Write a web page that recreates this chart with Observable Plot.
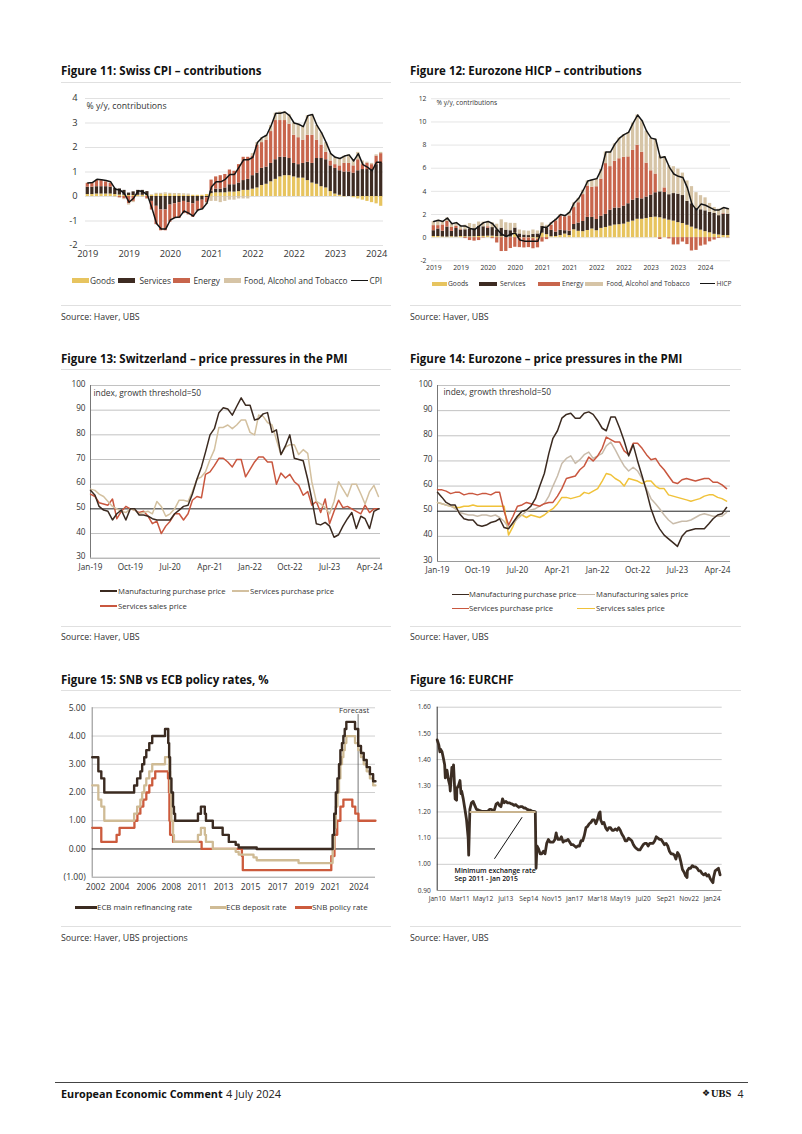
<!DOCTYPE html>
<html><head><meta charset="utf-8">
<script src="https://cdn.jsdelivr.net/npm/d3@7"></script>
<script src="https://cdn.jsdelivr.net/npm/@observablehq/plot@0.6"></script>
<style>
body{margin:0;background:#fff;}
#page{position:relative;width:802px;height:1134px;font-family:"Open Sans",sans-serif;color:#1a1a1a;overflow:hidden;background:#fff}
</style></head><body><div id="page"></div>
<script>
// ---------------- DATA ----------------
// Figure 11: Swiss CPI contributions (monthly, Jan 2019 - May 2024)
const series11 = ["Goods", "Services", "Energy", "Food, Alcohol and Tobacco"];
const chGoods = [.08,.08,.1,.1,.1,.1,.08,.06,.05,.04,.04,.05, .05,.05,.05,.08,.08,.1,.08,.07,.07,.06,.05,.05, .05,.05,.08,.12,.15,.15,.15,.18,.18,.2,.25,.25, .3,.35,.45,.5,.6,.7,.8,.85,.85,.8,.75,.75, .65,.55,.5,.4,.35,.2,.1,.05,-.02,0,-.05,-.1, -.15,-.2,-.25,-.3,-.4];
const chServices = [.3,.3,.3,.3,.3,.28,.25,.25,.2,.1,.15,.2, .2,.15,-.2,-.4,-.55,-.55,-.35,-.3,-.25,-.2,-.25,-.3, -.2,-.15,-.05,.1,.15,.15,.2,.3,.3,.35,.4,.45, .55,.6,.7,.7,.75,.8,.8,.75,.7,.55,.55,.6, .75,.8,1.05,1.15,1.15,1.05,1.05,1.0,1.0,1.0,.95,1.05, 1.1,1.1,1.1,1.3,1.35];
const chEnergy = [.15,.17,.25,.25,.2,.15,0,-.05,-.1,-.3,-.2,0, 0,-.1,-.35,-.75,-.85,-.85,-.7,-.6,-.65,-.5,-.5,-.55, -.4,-.35,-.2,.45,.5,.55,.55,.6,.55,.75,.95,.9, .8,1.15,1.05,1.1,1.3,1.6,1.5,1.5,1.4,1.15,1.1,.95, 1.1,1.15,.75,.55,.3,.2,.15,.2,.35,.35,.3,.45, .2,.25,.2,.35,.4];
const chFood = [.02,.02,.03,.03,.03,.03,-.02,-.03,-.03,-.05,-.05,-.02, -.03,-.02,.02,.05,.05,.05,.05,.05,.05,.05,.05,0, -.02,-.05,-.08,-.2,-.2,-.25,-.2,-.15,-.15,-.1,-.1,-.1, .1,.1,.2,.2,.25,.3,.35,.35,.4,.5,.55,.55, .8,.85,.6,.5,.4,.3,.3,.3,.3,.35,.25,.3, .15,.05,.05,.05,.05];
const chCPI = [0.55,0.57,0.7,0.68,0.65,0.6,0.3,0.27,0.12,-0.23,-0.07,0.23, 0.2,0.07,-0.48,-1.1,-1.33,-1.33,-0.96,-0.86,-0.84,-0.59,-0.68,-0.8, -0.55,-0.5,-0.27,0.4,0.6,0.6,0.7,0.9,0.9,1.2,1.5,1.5, 1.6,2.2,2.4,2.5,2.9,3.4,3.4,3.45,3.3,3.0,2.95,2.85, 3.3,3.35,2.9,2.6,2.2,1.75,1.6,1.55,1.65,1.7,1.45,1.75, 1.3,1.2,1.05,1.4,1.4];
const ticks11 = ["2019-01","2019-10","2020-07","2021-04","2022-01","2022-10","2023-07","2024-04"];
const tickLabels11 = ["2019","2019","2020","2021","2022","2022","2023","2024"];

// Figure 12: Eurozone HICP contributions (monthly, Jan 2019 - Jun 2024)
const ezGoods = [0.1,0.1,0.06,0.05,0.08,0.05,0.1,0.08,0.07,0.08,0.1,0.11, 0.13,0.13,0.08,0.08,0.05,0.05,0.42,-0.03,-0.03,-0.03,-0.08,-0.13, 0.39,0.26,0.08,0.1,0.18,0.31,0.18,0.68,0.55,0.52,0.62,0.75, 0.6,0.8,0.88,0.99,1.09,1.12,1.17,1.33,1.43,1.59,1.59,1.66, 1.74,1.77,1.72,1.61,1.51,1.43,1.3,1.22,1.07,0.91,0.75,0.65, 0.52,0.42,0.29,0.23,0.18,0.18];
const ezServices = [0.5,0.65,0.5,0.87,0.46,0.74,0.55,0.6,0.69,0.69,0.87,0.83, 0.69,0.74,0.6,0.74,0.6,0.55,0.41,0.32,0.23,0.18,0.28,0.32, 0.59,0.55,0.55,0.38,0.46,0.29,0.38,0.46,0.71,0.88,1.13,1.0, 0.97,1.05,1.13,1.39,1.47,1.43,1.55,1.6,1.81,1.81,1.76,1.85, 1.94,2.11,2.24,2.29,2.2,2.38,2.46,2.42,2.07,2.02,1.76,1.76, 1.8,1.76,1.8,1.67,1.85,1.85];
const ezEnergy = [0.44,0.29,0.54,0.48,0.34,0.19,0.05,-0.08,-0.25,-0.3,-0.25,-0.04, 0.12,-0.09,-0.46,-1.2,-1.19,-0.94,-0.83,-0.83,-0.86,-0.83,-0.88,-0.75, -0.38,-0.17,0.45,0.98,1.24,1.2,1.32,1.46,1.76,2.32,2.71,2.61, 2.83,3.21,4.39,3.76,4.04,4.27,4.22,4.05,4.3,4.58,4.03,2.93, 2.1,1.62,-0.16,0.4,-0.11,-0.63,-0.62,-0.38,-0.6,-1.15,-1.1,-0.73, -0.64,-0.36,-0.21,-0.06,0.05,-0.03];
const ezFood = [0.36,0.46,0.3,0.3,0.32,0.32,0.3,0.4,0.46,0.38,0.38,0.4, 0.46,0.42,0.48,0.72,0.64,0.64,0.4,0.34,0.36,0.38,0.38,0.26, 0.3,0.26,0.22,0.14,0.12,0.1,0.32,0.4,0.38,0.38,0.44,0.64, 0.7,0.84,1.0,1.26,1.5,1.78,1.96,2.12,2.36,2.62,2.72,2.76, 2.82,3.0,3.1,2.7,2.5,2.32,2.16,1.94,1.76,1.48,1.38,1.22, 1.12,0.78,0.52,0.56,0.52,0.5];
const ezHICP = [1.4,1.5,1.4,1.7,1.2,1.3,1.0,1.0,0.8,0.7,1.0,1.3, 1.4,1.2,0.7,0.3,0.1,0.3,0.4,-0.2,-0.3,-0.3,-0.3,-0.3, 0.9,0.9,1.3,1.6,2.0,1.9,2.2,3.0,3.4,4.1,4.9,5.0, 5.1,5.9,7.4,7.4,8.1,8.6,8.9,9.1,9.9,10.6,10.1,9.2, 8.6,8.5,6.9,7.0,6.1,5.5,5.3,5.2,4.3,2.9,2.4,2.9, 2.8,2.6,2.4,2.4,2.6,2.5];
const ticks12 = ["2019-01","2019-07","2020-01","2020-07","2021-01","2021-07","2022-01","2022-07","2023-01","2023-07","2024-01"];
const tickLabels12 = ["2019","2019","2020","2020","2021","2021","2022","2022","2023","2023","2024"];

// Figure 13: Switzerland PMI price components (monthly, Jan 2019 - Jun 2024)
const chManufPurch = [57.5,55.5,51,49.5,49,45.5,48,49.5,45.5,50,50,47.5,47.5,47,46,45.5,45.5,45.5,45.5,48,49.5,51,51.5,56,62,67,73,80,82.5,89,91,90.5,88,91.5,95,92,92,86,86.5,88.5,89,81,82,72,75.5,80,70.5,70,69.5,62,54,44,43.5,44.5,43,38.5,39.5,43,46,48.5,42,47,46,42,49,50];
const chServPurch = [58,57.5,56,55,53,51,50,49,48.5,50,49.5,48,48.5,49,48,53,51,47,48,50,53.5,53.5,53,57,62,63,65,70,74,83,83,84,82.5,84,86,86,81,80,88,87.5,85,84,78,72,75,76,76,72,74,72.5,61,53,52,50.5,48,53,61,58,55,60,60,56,52,57,59.5,55];
const chServSales = [56,55,52.5,52,51.5,54,46,49,51,50,49.5,48.5,49,47,44,45,40,43,45,48,48,45.5,48,53.5,55,54.5,64,65,67.5,70.5,70.5,69,67,70,70,63,66,69,71,71,69,69,60,64.5,62.5,64,61,59.5,55.5,57,51.5,53,48.5,54,44,49,53.5,50.5,51,50,49,48,51.5,48.5,50,50];
const pmiTicks = ["2019-01","2019-10","2020-07","2021-04","2022-01","2022-10","2023-07","2024-04"];

// Figure 14: Eurozone PMI price components (monthly, Jan 2019 - Jun 2024)
const ezManufPurch = [57.5,55.5,53.5,52.5,52.5,49,47,46.5,46.5,44.5,44,44.5,45.5,46,47,43.5,43,45.5,48,50,50.5,52,55,60,65,73,79,82,87,88.5,89,87,87,89,89.5,88.5,86,83,82,87.5,87.5,83,78,72,76.5,70,64,58,51,46,43,40.5,39,37.5,36,40,42,42.5,43,43,43,45,47,48.5,49,51.5];
const ezManufSales = [53.5,53,52.5,52,51,49.5,49,48.5,48.5,48,48.5,48.5,48,48.5,47.5,46,43.5,45,47,48.5,50,50.5,51,52,53,56,60,64,69,71,72,69,70.5,72.5,73.5,71,72,73,76,77.5,74.5,71,68,66,67.5,66,63,59,55,53,51,48.5,46.5,45,45.5,46,46,46.5,47.5,48.5,49,48.5,48,48,48,49.5];
const ezServPurch = [58.5,58.5,58,57,57.5,57.5,56.5,57,57,56.5,57,57,56.5,57.5,57.5,50,44.5,48,52,52.5,53.5,53,52.5,52,53,53.5,53.5,56,59,63,63.5,64,66.5,68,71.5,70,72,75,79.5,78.5,77.5,77.5,74,72.5,77,77,75,72.5,70.5,71,68.5,66.5,64,61.5,61,62.5,63,62.5,62,62.5,63,63,61.5,61.5,60.5,59];
const ezServSales = [53.5,53,52.5,52,51.5,51.5,52,52,52.5,52,52,52,52,52,52,52,40.5,44,48,48.5,47.5,48.5,48,47.5,48.5,50,51,53,55.5,55.5,55,55.5,56,57.5,57,58,59,62,65,64.5,63,62,60,63,62.5,62,61,62,62,60,59,59,56.5,56,55.5,55,54.5,54,54.5,55,56,56.5,56.5,55.5,55,54];

// Figure 15: policy rates (change dates and levels; 2024-09 onwards = UBS forecast)
const refiDates = ["2002-06-01","2002-12-06","2003-03-07","2003-06-06","2005-12-06","2006-03-08","2006-06-15","2006-08-09","2006-10-11","2006-12-13","2007-03-14","2007-06-13","2008-07-09","2008-10-15","2008-11-12","2008-12-10","2009-01-21","2009-03-11","2009-04-08","2009-05-13","2011-04-13","2011-07-13","2011-11-09","2011-12-14","2012-07-11","2013-05-08","2013-11-13","2014-06-11","2014-09-10","2016-03-16","2022-07-27","2022-09-14","2022-11-02","2022-12-21","2023-02-08","2023-03-22","2023-05-10","2023-06-21","2023-08-02","2023-09-20","2024-06-12","2024-09-18","2024-12-12","2025-03-06","2025-06-05","2025-09-11","2025-12-18","2026-03-01"];
const refiVals = [3.25,2.75,2.5,2.0,2.25,2.5,2.75,3.0,3.25,3.5,3.75,4.0,4.25,3.75,3.25,2.5,2.0,1.5,1.25,1.0,1.25,1.5,1.25,1.0,0.75,0.5,0.25,0.15,0.05,0.0,0.5,1.25,2.0,2.5,3.0,3.5,3.75,4.0,4.25,4.5,4.25,3.65,3.4,3.15,2.9,2.65,2.4,2.4];
const depDates = ["2002-06-01","2002-12-06","2003-03-07","2003-06-06","2005-12-06","2006-03-08","2006-06-15","2006-08-09","2006-10-11","2006-12-13","2007-03-14","2007-06-13","2008-07-09","2008-10-15","2008-11-12","2008-12-10","2009-01-21","2009-03-11","2009-04-08","2011-04-13","2011-07-13","2011-11-09","2011-12-14","2012-07-11","2014-06-11","2014-09-10","2015-12-09","2016-03-16","2019-09-18","2022-07-27","2022-09-14","2022-11-02","2022-12-21","2023-02-08","2023-03-22","2023-05-10","2023-06-21","2023-08-02","2023-09-20","2024-06-12","2024-09-18","2024-12-12","2025-03-06","2025-06-05","2025-09-11","2025-12-18","2026-03-01"];
const depVals = [2.25,1.75,1.5,1.0,1.25,1.5,1.75,2.0,2.25,2.5,2.75,3.0,3.25,3.25,2.75,2.0,1.0,0.5,0.25,0.5,0.75,0.5,0.25,0.0,-0.1,-0.2,-0.3,-0.4,-0.5,0.0,0.75,1.5,2.0,2.5,3.0,3.25,3.5,3.75,4.0,3.75,3.5,3.25,3.0,2.75,2.5,2.25,2.25];
const snbDates = ["2002-06-01","2003-03-06","2004-06-17","2004-09-16","2005-12-15","2006-03-16","2006-06-15","2006-09-14","2006-12-14","2007-03-15","2007-06-14","2007-09-13","2008-10-08","2008-11-06","2008-11-20","2008-12-11","2009-03-12","2011-08-03","2014-12-18","2015-01-15","2022-06-16","2022-09-22","2022-12-15","2023-03-23","2023-06-22","2024-03-21","2024-06-20","2024-09-26","2026-03-01"];
const snbVals = [0.75,0.25,0.5,0.75,1.0,1.25,1.5,1.75,2.0,2.25,2.5,2.75,2.5,2.0,1.0,0.5,0.25,0.0,-0.25,-0.75,-0.25,0.5,1.0,1.5,1.75,1.5,1.25,1.0,1.0];
const forecastStart = "2024-09-15";
const ticks15 = ["2002-09-12","2004-09-16","2006-12-12","2009-01-15","2011-03-20","2013-06-05","2015-09-10","2017-12-12","2020-03-10","2022-05-20","2024-10-08"];
const tickLabels15 = ["2002","2004","2006","2008","2011","2013","2015","2017","2019","2021","2024"];

// Figure 16: EURCHF (monthly readings Jan 2010 - Jun 2024, plus intramonth extremes)
const eurchf = [
 1.475,1.455,1.44,1.43,1.40,1.33,1.36,1.32,1.28,1.37,1.38,1.25,
 1.29,1.30,1.32,1.28,1.25,1.21,1.17,1.10,1.21,1.235,1.24,1.225,
 1.21,1.208,1.205,1.203,1.202,1.202,1.202,1.203,1.21,1.21,1.206,1.208,
 1.23,1.235,1.225,1.22,1.25,1.235,1.24,1.235,1.235,1.232,1.23,1.225,
 1.228,1.222,1.218,1.22,1.22,1.215,1.215,1.21,1.208,1.207,1.203,1.202,
 1.20,1.07,1.06,1.04,1.04,1.05,1.04,1.08,1.095,1.085,1.085,1.085,
 1.095,1.11,1.095,1.095,1.105,1.085,1.09,1.09,1.095,1.085,1.075,1.075,
 1.07,1.065,1.07,1.07,1.09,1.09,1.11,1.14,1.145,1.155,1.16,1.17,
 1.17,1.155,1.17,1.195,1.17,1.155,1.16,1.14,1.13,1.14,1.14,1.13,
 1.13,1.135,1.13,1.14,1.13,1.115,1.105,1.09,1.09,1.10,1.095,1.09,
 1.075,1.065,1.06,1.055,1.055,1.065,1.075,1.08,1.08,1.07,1.08,1.08,
 1.08,1.09,1.105,1.10,1.095,1.095,1.085,1.075,1.08,1.07,1.05,1.04,
 1.04,1.035,1.02,1.045,1.035,1.01,0.98,0.97,0.955,0.975,0.985,0.985,
 0.995,0.99,0.99,0.985,0.975,0.975,0.965,0.96,0.965,0.955,0.96,0.945,
 0.935,0.95,0.975,0.98,0.985,0.96];
const chfExtremeDates = ["2010-02-20","2010-05-20","2010-08-25","2010-10-15","2010-12-28","2011-03-20","2011-08-10","2015-01-15","2016-01-25","2018-04-20","2022-09-25","2024-01-20"];
const chfExtremeVals = [1.43, 1.38, 1.30, 1.34, 1.245, 1.27, 1.035, 0.985, 1.12, 1.20, 0.95, 0.93];
const floor16 = {start: "2011-09-06", end: "2015-01-15", level: 1.2};
const ticks16 = ["2010-01","2011-03","2012-05","2013-07","2014-09","2015-11","2017-01","2018-03","2019-05","2020-07","2021-09","2022-11","2024-01"];
const pointer16 = [{x1: "2012-12-01", y1: 1.021, x2: "2014-05-01", y2: 1.18}];
const note16 = {x: "2010-11-20", y: 0.961, text: "Minimum exchange rate\nSep 2011 - Jan 2015"};

// ---------------- HELPERS ----------------
const D = s => new Date((s.length === 7 ? s + "-01" : s) + "T00:00:00Z");
const page = document.getElementById("page");
const FONT = "'Open Sans', sans-serif";
function addText(text, x, yc, style) {
  const d = document.createElement("div");
  d.textContent = text;
  d.style.cssText = `position:absolute;left:${x}px;top:${yc - 8}px;line-height:16px;white-space:nowrap;` + (style || "");
  page.appendChild(d); return d;
}
function addRule(x1, x2, y, color, w) {
  const d = document.createElement("div");
  d.style.cssText = `position:absolute;left:${x1}px;top:${y}px;width:${x2 - x1}px;height:${w || 1}px;background:${color};`;
  page.appendChild(d);
}
function addSwatch(x, yc, w, h, color) {
  const d = document.createElement("div");
  d.style.cssText = `position:absolute;left:${x}px;top:${yc - h / 2}px;width:${w}px;height:${h}px;background:${color};`;
  page.appendChild(d);
}
function addChart(svg, left, top) {
  svg.style.position = "absolute"; svg.style.left = left + "px"; svg.style.top = top + "px";
  page.appendChild(svg);
}
const baseStyle = {fontFamily: FONT, color: "#333", background: "transparent", overflow: "visible"};
const plain = d => `${d}`;

// ---------------- TITLES, RULES, SOURCES ----------------
const titleStyle = "font-weight:700;font-size:11.5px;color:#111;";
const srcStyle = "font-size:8.8px;color:#333;";
addText("Figure 11: Swiss CPI \u2013 contributions", 61, 70.5, titleStyle);
addText("Figure 12: Eurozone HICP \u2013 contributions", 410, 70.5, titleStyle);
addText("Figure 13: Switzerland \u2013 price pressures in the PMI", 61, 358.5, titleStyle);
addText("Figure 14: Eurozone \u2013 price pressures in the PMI", 410, 358.5, titleStyle);
addText("Figure 15: SNB vs ECB policy rates, %", 61, 679.5, titleStyle);
addText("Figure 16: EURCHF", 410, 679.5, titleStyle);
for (const y of [81.5, 369, 690]) { addRule(61, 391, y, "#e0e0e0"); addRule(410, 741, y, "#e0e0e0"); }
for (const y of [304.5, 625.5, 925.5]) { addRule(61, 391, y, "#e0e0e0"); addRule(410, 741, y, "#e0e0e0"); }
addText("Source: Haver, UBS", 61, 316.5, srcStyle);
addText("Source: Haver, UBS", 410, 316.5, srcStyle);
addText("Source: Haver, UBS", 61, 637, srcStyle);
addText("Source: Haver, UBS", 410, 637, srcStyle);
addText("Source: Haver, UBS projections", 61, 937.5, srcStyle);
addText("Source: Haver, UBS", 410, 937.5, srcStyle);

// Footer
addRule(55, 748, 1081.5, "#444");
addText("European Economic Comment", 61, 1093.5, "font-weight:700;font-size:10.8px;color:#111;");
addText("4 July 2024", 226, 1093.5, "font-size:11px;color:#222;");
addText("\u2756", 702, 1093, "font-family:'DejaVu Sans',sans-serif;font-size:9px;color:#111;");
addText("UBS", 711, 1093.5, "font-family:'Liberation Serif',serif;font-weight:700;font-size:10.5px;color:#111;");
addText("4", 737.5, 1093.5, "font-size:10.5px;color:#222;");

// ---------------- FIGURE 11 ----------------
const months11 = d3.utcMonth.range(D("2019-01"), D("2024-06")).map(d3.utcFormat("%Y-%m"));
const cols11 = ["#e7c45f", "#3d2b22", "#c8654c", "#d6c4a6"];
const vals11 = [chGoods, chServices, chEnergy, chFood];
const rows11 = series11.flatMap((s, k) => vals11[k].map((v, i) => ({month: months11[i], series: s, value: v})));
const cpiRows = chCPI.map((v, i) => ({month: months11[i], value: v}));
const yt11 = [-2, -1, 0, 1, 2, 3, 4];
addChart(Plot.plot({
  width: 330, height: 180, marginLeft: 24, marginRight: 8, marginTop: 10, marginBottom: 23,
  style: {...baseStyle, fontSize: "9.3px"},
  x: {type: "band", domain: months11, paddingInner: 0.3, paddingOuter: 0.15},
  y: {domain: [-2, 4]},
  color: {domain: series11, range: cols11},
  marks: [
    Plot.ruleY(yt11, {stroke: "#dedede", strokeWidth: 0.9}),
    Plot.barY(rows11, {x: "month", y: "value", fill: "series"}),
    Plot.lineY(cpiRows, {x: "month", y: "value", stroke: "#151515", strokeWidth: 1.5}),
    Plot.axisY(yt11, {tickSize: 0, tickPadding: 8, label: null, fontSize: 9.3, tickFormat: plain}),
    Plot.axisX(ticks11, {tickSize: 0, tickPadding: 5, label: null, fontSize: 9.3,
      tickFormat: d => tickLabels11[ticks11.indexOf(d)]}),
    Plot.text(["% y/y, contributions"], {frameAnchor: "top-left", dx: 1, dy: 4, fontSize: 8.7, fill: "#333"})
  ]
}), 61, 88);
{
  const y = 280.7, st = "font-size:8.3px;color:#333;";
  addSwatch(71.5, y, 17, 4.5, cols11[0]); addText("Goods", 90, y, st);
  addSwatch(118, y, 17, 4.5, cols11[1]); addText("Services", 139.5, y, st);
  addSwatch(173, y, 17, 4.5, cols11[2]); addText("Energy", 193.5, y, st);
  addSwatch(224, y, 17, 4.5, cols11[3]); addText("Food, Alcohol and Tobacco", 244, y, st);
  addSwatch(351, y, 17, 1.6, "#151515"); addText("CPI", 369.5, y, st);
}

// ---------------- FIGURE 12 ----------------
const months12 = d3.utcMonth.range(D("2019-01"), D("2024-07")).map(d3.utcFormat("%Y-%m"));
const vals12 = [ezGoods, ezServices, ezEnergy, ezFood];
const rows12 = series11.flatMap((s, k) => vals12[k].map((v, i) => ({month: months12[i], series: s, value: v})));
const hicpRows = ezHICP.map((v, i) => ({month: months12[i], value: v}));
const yt12 = [-2, 0, 2, 4, 6, 8, 10, 12];
addChart(Plot.plot({
  width: 330, height: 186, marginLeft: 21, marginRight: 10, marginTop: 10.3, marginBottom: 13.7,
  style: {...baseStyle, fontSize: "6.8px"},
  x: {type: "band", domain: months12, paddingInner: 0.28, paddingOuter: 0.15},
  y: {domain: [-2, 12]},
  color: {domain: series11, range: cols11},
  marks: [
    Plot.ruleY(yt12, {stroke: "#e2e2e2", strokeWidth: 0.9}),
    Plot.barY(rows12, {x: "month", y: "value", fill: "series"}),
    Plot.lineY(hicpRows, {x: "month", y: "value", stroke: "#151515", strokeWidth: 1.5}),
    Plot.axisY(yt12, {tickSize: 0, tickPadding: 5, label: null, fontSize: 6.8, tickFormat: plain}),
    Plot.axisX(ticks12, {tickSize: 0, tickPadding: 4, label: null, fontSize: 6.8,
      tickFormat: d => tickLabels12[ticks12.indexOf(d)]}),
    Plot.text(["% y/y, contributions"], {frameAnchor: "top-left", dx: 5, dy: 2, fontSize: 6.6, fill: "#333"})
  ]
}), 410, 88);
{
  const y = 283.7, st = "font-size:6.7px;color:#333;";
  addSwatch(431.5, y, 15, 4, cols11[0]); addText("Goods", 448, y, st);
  addSwatch(479, y, 18, 4, cols11[1]); addText("Services", 500, y, st);
  addSwatch(538, y, 22, 4, cols11[2]); addText("Energy", 562, y, st);
  addSwatch(585, y, 18, 4, cols11[3]); addText("Food, Alcohol and Tobacco", 606.5, y, st);
  addSwatch(700, y, 15, 1.6, "#151515"); addText("HICP", 716.5, y, st);
}

// ---------------- FIGURE 13 ----------------
const months13 = d3.utcMonth.range(D("2019-01"), D("2024-07"));
const ser = arr => arr.map((v, i) => ({date: months13[i], value: v}));
const yt13 = [30, 40, 50, 60, 70, 80, 90, 100];
const colDark = "#3b2a20", colBeige = "#d3c09f", colRed = "#c9573f", colYellow = "#f0c23a", colGrey = "#c9bcab";
addChart(Plot.plot({
  width: 330, height: 195, marginLeft: 29, marginRight: 11, marginTop: 5, marginBottom: 17.3,
  style: {...baseStyle, fontSize: "8.2px"},
  x: {type: "utc", domain: [D("2019-01"), D("2024-06-15")]},
  y: {domain: [30, 100]},
  marks: [
    Plot.ruleY([40, 60, 70, 80, 90, 100], {stroke: "#c2c2c2", strokeWidth: 1}),
    Plot.ruleY([30], {stroke: "#9a9a9a", strokeWidth: 1}),
    Plot.ruleX([D("2019-01")], {stroke: "#777", strokeWidth: 1}),
    Plot.ruleY([50], {stroke: "#222", strokeWidth: 1}),
    Plot.line(ser(chServSales), {x: "date", y: "value", stroke: colRed, strokeWidth: 1.5}),
    Plot.line(ser(chServPurch), {x: "date", y: "value", stroke: colBeige, strokeWidth: 1.5}),
    Plot.line(ser(chManufPurch), {x: "date", y: "value", stroke: colDark, strokeWidth: 1.5}),
    Plot.axisY(yt13, {tickSize: 0, tickPadding: 5, label: null, fontSize: 8.2, dy: -1.5}),
    Plot.axisX(pmiTicks.map(D), {tickSize: 0, tickPadding: 5.5, label: null, fontSize: 8.2, tickFormat: d3.utcFormat("%b-%y")}),
    Plot.text(["index, growth threshold=50"], {frameAnchor: "top-left", dx: 3, dy: 5, fontSize: 8.4, fill: "#333"})
  ]
}), 61, 380);
{
  const st = "font-size:7.7px;color:#333;";
  addSwatch(100, 591, 17, 1.6, colDark); addText("Manufacturing purchase price", 118, 591, st);
  addSwatch(232, 591, 17, 1.6, colBeige); addText("Services purchase price", 250, 591, st);
  addSwatch(100, 606, 17, 1.6, colRed); addText("Services sales price", 118, 606, st);
}

// ---------------- FIGURE 14 ----------------
addChart(Plot.plot({
  width: 330, height: 200, marginLeft: 27, marginRight: 10, marginTop: 5, marginBottom: 19,
  style: {...baseStyle, fontSize: "8.2px"},
  x: {type: "utc", domain: [D("2019-01"), D("2024-06-28")]},
  y: {domain: [30, 100]},
  marks: [
    Plot.ruleY([40, 60, 70, 80, 90, 100], {stroke: "#c2c2c2", strokeWidth: 1}),
    Plot.ruleY([30], {stroke: "#9a9a9a", strokeWidth: 1}),
    Plot.ruleX([D("2019-01")], {stroke: "#777", strokeWidth: 1}),
    Plot.ruleY([50], {stroke: "#222", strokeWidth: 1}),
    Plot.line(ser(ezServSales), {x: "date", y: "value", stroke: colYellow, strokeWidth: 1.5}),
    Plot.line(ser(ezManufSales), {x: "date", y: "value", stroke: colGrey, strokeWidth: 1.5}),
    Plot.line(ser(ezServPurch), {x: "date", y: "value", stroke: colRed, strokeWidth: 1.5}),
    Plot.line(ser(ezManufPurch), {x: "date", y: "value", stroke: colDark, strokeWidth: 1.5}),
    Plot.axisY(yt13, {tickSize: 0, tickPadding: 5, label: null, fontSize: 8.2, dy: -1.5}),
    Plot.axisX(pmiTicks.map(D), {tickSize: 0, tickPadding: 6, label: null, fontSize: 8.2, tickFormat: d3.utcFormat("%b-%y")}),
    Plot.text(["index, growth threshold=50"], {frameAnchor: "top-left", dx: 6, dy: 4, fontSize: 8.4, fill: "#333"})
  ]
}), 410, 380);
{
  const st = "font-size:7.7px;color:#333;";
  addSwatch(451.5, 594.3, 17, 1.6, colDark); addText("Manufacturing purchase price", 469, 594.3, st);
  addSwatch(577, 594.3, 18, 1.6, colGrey); addText("Manufacturing sales price", 596, 594.3, st);
  addSwatch(451.5, 608.3, 17, 1.6, colRed); addText("Services purchase price", 469, 608.3, st);
  addSwatch(577, 608.3, 18, 1.6, colYellow); addText("Services sales price", 596, 608.3, st);
}

// ---------------- FIGURE 15 ----------------
const steps = (dates, vals) => dates.map((d, i) => ({date: D(d), value: vals[i]}));
const yt15 = [-1, 0, 1, 2, 3, 4, 5];
const fmt15 = v => v < 0 ? `(${Math.abs(v).toFixed(2)})` : v.toFixed(2);
const colRefi = "#3b2b21", colDep = "#cfbb95", colSnb = "#cc5b3d";
addChart(Plot.plot({
  width: 330, height: 195, marginLeft: 30.7, marginRight: 16, marginTop: 7.3, marginBottom: 18.3,
  style: {...baseStyle, fontSize: "8.6px"},
  x: {type: "utc", domain: [D("2002-06-01"), D("2026-03-01")]},
  y: {domain: [-1, 5]},
  marks: [
    Plot.ruleY([1, 2, 3, 4, 5], {stroke: "#cfcfcf", strokeWidth: 1}),
    Plot.ruleY([-1], {stroke: "#9a9a9a", strokeWidth: 1}),
    Plot.ruleX([D("2002-06-01")], {stroke: "#888", strokeWidth: 1}),
    Plot.ruleY([0], {stroke: "#111", strokeWidth: 1}),
    Plot.ruleX([D(forecastStart)], {y1: 0, y2: 4.76, stroke: "#555", strokeWidth: 0.8}),
    Plot.text(["Forecast"], {x: D(forecastStart), y: 4.9, dx: -4, fontSize: 7.6, fill: "#333"}),
    Plot.line(steps(snbDates, snbVals), {x: "date", y: "value", stroke: colSnb, strokeWidth: 2.3, curve: "step-after"}),
    Plot.line(steps(depDates, depVals), {x: "date", y: "value", stroke: colDep, strokeWidth: 2.3, curve: "step-after"}),
    Plot.line(steps(refiDates, refiVals), {x: "date", y: "value", stroke: colRefi, strokeWidth: 2.4, curve: "step-after"}),
    Plot.axisY(yt15, {tickSize: 0, tickPadding: 6.5, label: null, fontSize: 8.6, tickFormat: fmt15}),
    Plot.axisX(ticks15.map(D), {tickSize: 0, tickPadding: 6.5, label: null, fontSize: 8.6,
      tickFormat: (d, i) => tickLabels15[i]})
  ]
}), 61, 700);
{
  const st = "font-size:7.9px;color:#333;";
  addSwatch(75, 907.3, 22, 3, colRefi); addText("ECB main refinancing rate", 97, 907.3, st);
  addSwatch(210, 907.3, 16, 3, colDep); addText("ECB deposit rate", 226, 907.3, st);
  addSwatch(295, 907.3, 17, 3, colSnb); addText("SNB policy rate", 312, 907.3, st);
}

// ---------------- FIGURE 16 ----------------
const months16 = d3.utcMonth.range(D("2010-01"), D("2024-07"));
const chfRows = eurchf.map((v, i) => ({date: months16[i], value: v}))
  .concat(chfExtremeDates.map((d, i) => ({date: D(d), value: chfExtremeVals[i]})))
  .sort((a, b) => a.date - b.date);
const yt16 = [0.9, 1.0, 1.1, 1.2, 1.3, 1.4, 1.5, 1.6];
addChart(Plot.plot({
  width: 330, height: 205, marginLeft: 26.7, marginRight: 18.3, marginTop: 6.7, marginBottom: 15,
  style: {...baseStyle, fontSize: "6.6px"},
  x: {type: "utc", domain: [D("2010-01"), D("2024-07-10")]},
  y: {domain: [0.9, 1.6]},
  marks: [
    Plot.ruleY(yt16.slice(1), {stroke: "#cdcdcd", strokeWidth: 1}),
    Plot.ruleY([0.9], {stroke: "#999", strokeWidth: 1}),
    Plot.ruleX([D("2010-01")], {stroke: "#333", strokeWidth: 1}),
    Plot.line(chfRows, {x: "date", y: "value", stroke: "#3c2e24", strokeWidth: 2.8}),
    Plot.ruleY([floor16.level], {x1: D(floor16.start), x2: D(floor16.end), stroke: "#c9b48f", strokeWidth: 2}),
    Plot.link(pointer16, {x1: d => D(d.x1), y1: "y1", x2: d => D(d.x2), y2: "y2", stroke: "#111", strokeWidth: 1}),
    Plot.text([note16], {x: d => D(d.x), y: "y", text: "text", textAnchor: "start", lineHeight: 1.15, fontSize: 6.9, fill: "#111", fontWeight: 600}),
    Plot.axisY(yt16, {tickSize: 0, tickPadding: 6.5, label: null, fontSize: 6.6, tickFormat: d3.format(".2f")}),
    Plot.axisX(ticks16.map(D), {tickSize: 0, tickPadding: 5.5, label: null, fontSize: 6.6, tickFormat: d3.utcFormat("%b%y")})
  ]
}), 410, 700);
</script></body></html>
